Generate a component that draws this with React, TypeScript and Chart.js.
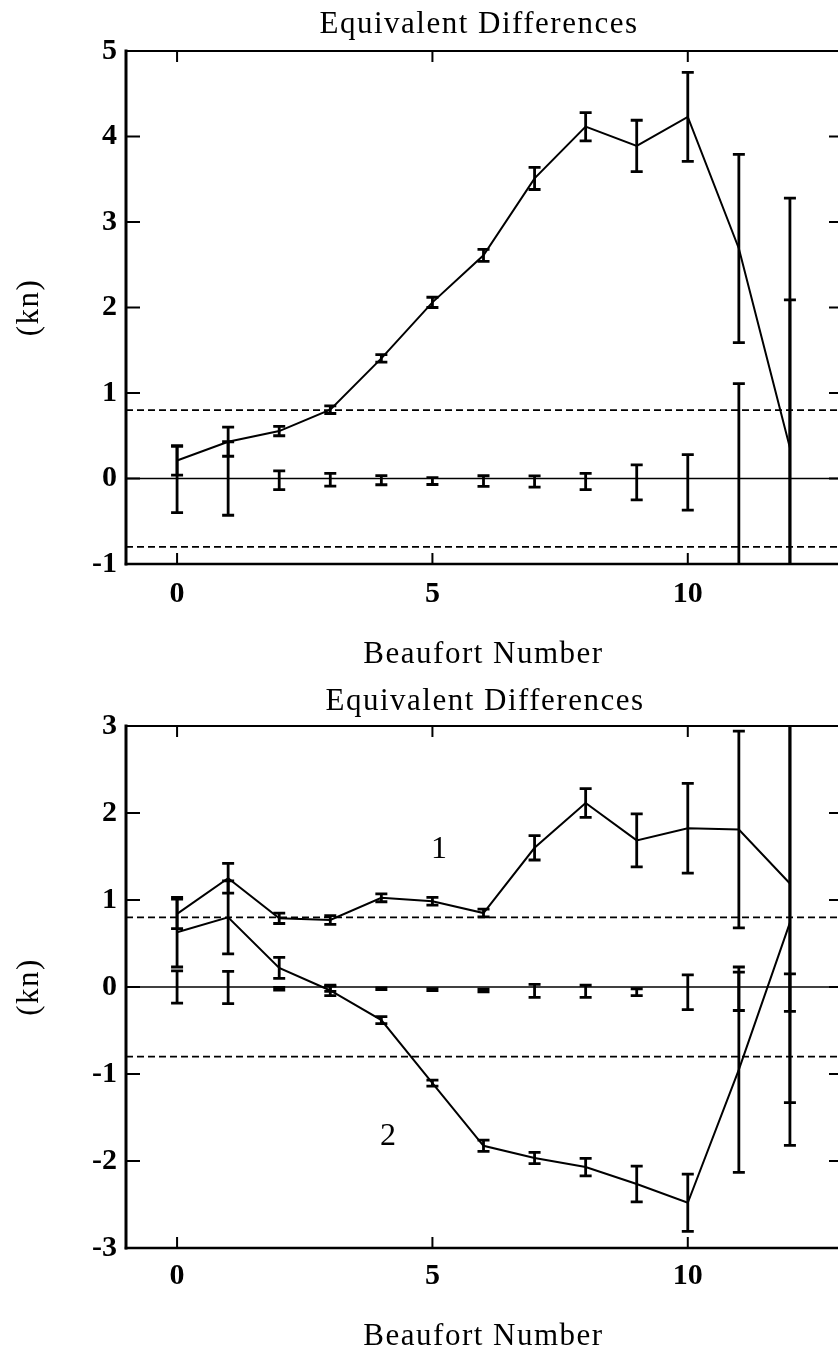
import React, { useEffect, useRef } from "react";
import { Chart, registerables } from "chart.js";

Chart.register(...registerables);

// ---------- shared axis data ----------
const BEAUFORT = [0, 1, 2, 3, 4, 5, 6, 7, 8, 9, 10, 11, 12];
const X_TICKS = [0, 5, 10];
const X_RANGE = [-1, 13];
const TOLERANCE = [0.8, -0.8];
const TITLE = "Equivalent Differences";
const X_TITLE = "Beaufort Number";
const Y_TITLE = "(kn)";

// ---------- top panel ----------
const TOP_Y_RANGE = [-1, 5];
const TOP_A = [0.21, 0.43, 0.555, 0.805, 1.405, 2.06, 2.61, 3.51, 4.115, 3.89, 4.23, 2.69, 0.36];
const TOP_A_ERR = [0.17, 0.17, 0.055, 0.045, 0.045, 0.06, 0.07, 0.13, 0.165, 0.3, 0.52, 1.1, 2.92];
const TOP_B = [-0.01, 0.0, -0.02, -0.015, -0.02, -0.03, -0.03, -0.035, -0.035, -0.045, -0.045, -0.05, -0.06];
const TOP_B_ERR = [0.39, 0.43, 0.11, 0.075, 0.053, 0.04, 0.062, 0.065, 0.095, 0.205, 0.325, 1.16, 2.15];

// ---------- bottom panel ----------
const BOT_Y_RANGE = [-3, 3];
const BOT_S1 = [0.84, 1.25, 0.79, 0.77, 1.025, 0.985, 0.85, 1.6, 2.115, 1.685, 1.825, 1.81, 1.19];
const BOT_S1_ERR = [0.17, 0.17, 0.06, 0.05, 0.045, 0.045, 0.045, 0.14, 0.165, 0.305, 0.515, 1.13, 2.52];
const BOT_S2 = [0.63, 0.8, 0.22, -0.04, -0.38, -1.105, -1.825, -1.965, -2.07, -2.265, -2.48, -0.95, 0.74];
const BOT_S2_ERR = [0.4, 0.42, 0.12, 0.06, 0.04, 0.035, 0.065, 0.065, 0.1, 0.205, 0.33, 1.18, 2.56];
const BOT_S3 = [0.0, -0.005, -0.02, -0.02, -0.02, -0.03, -0.04, -0.045, -0.05, -0.06, -0.06, -0.05, -0.065];
const BOT_S3_ERR = [0.185, 0.185, 0.015, 0.03, 0.01, 0.01, 0.015, 0.075, 0.07, 0.04, 0.2, 0.22, 0.215];
const BOT_LABELS = ["1", "2"];
const BOT_LABEL_X = [5.13, 4.13];
const BOT_LABEL_Y = [1.575, -1.72];

const SERIF = '"Liberation Serif", "Times New Roman", serif';
const CANVAS_W = 900;

type Series = { values: number[]; errors: number[]; line: boolean };
type Panel = {
  top: number;
  height: number;
  areaTop: number;
  areaBottom: number;
  yRange: number[];
  series: Series[];
  labels: { text: string; x: number; y: number }[];
  titleX: number;
  titleBase: number;
  xTitleBase: number;
  xTickPad: number;
};

const PANELS: Panel[] = [
  {
    top: 0,
    height: 680,
    areaTop: 51,
    areaBottom: 564,
    yRange: TOP_Y_RANGE,
    series: [
      { values: TOP_A, errors: TOP_A_ERR, line: true },
      { values: TOP_B, errors: TOP_B_ERR, line: false },
    ],
    labels: [],
    titleX: 479,
    titleBase: 33,
    xTitleBase: 663,
    xTickPad: 12,
  },
  {
    top: 680,
    height: 673,
    areaTop: 46,
    areaBottom: 568,
    yRange: BOT_Y_RANGE,
    series: [
      { values: BOT_S1, errors: BOT_S1_ERR, line: true },
      { values: BOT_S2, errors: BOT_S2_ERR, line: true },
      { values: BOT_S3, errors: BOT_S3_ERR, line: false },
    ],
    labels: BOT_LABELS.map((t, i) => ({ text: t, x: BOT_LABEL_X[i], y: BOT_LABEL_Y[i] })),
    titleX: 485,
    titleBase: 30,
    xTitleBase: 665,
    xTickPad: 10,
  },
];

function PanelChart({ panel }: { panel: Panel }) {
  const ref = useRef<HTMLCanvasElement>(null);

  useEffect(() => {
    const canvas = ref.current;
    if (!canvas) return;

    const datasets: any[] = [];
    panel.series.forEach((s) => {
      datasets.push({
        data: BEAUFORT.map((x, i) => ({ x, y: s.values[i] })),
        showLine: s.line,
        borderColor: "#000",
        backgroundColor: "#000",
        borderWidth: 2,
        pointRadius: 0,
        tension: 0,
        errors: s.errors,
      });
    });
    datasets.push({
      data: X_RANGE.map((x) => ({ x, y: 0 })),
      showLine: true,
      borderColor: "#000",
      borderWidth: 1.6,
      pointRadius: 0,
    });
    TOLERANCE.forEach((t) =>
      datasets.push({
        data: X_RANGE.map((x) => ({ x, y: t })),
        showLine: true,
        borderColor: "#000",
        borderWidth: 1.7,
        borderDash: [7, 4],
        pointRadius: 0,
      })
    );

    const framePlugin = {
      id: "frame",
      afterDraw(chart: any) {
        const ctx: CanvasRenderingContext2D = chart.ctx;
        const a = chart.chartArea;
        const xs = chart.scales.x;
        const ys = chart.scales.y;
        ctx.save();
        ctx.strokeStyle = "#000";
        ctx.fillStyle = "#000";

        // error bars
        ctx.save();
        ctx.beginPath();
        ctx.rect(a.left, a.top, a.right - a.left, a.bottom - a.top);
        ctx.clip();
        ctx.lineWidth = 2.8;
        chart.data.datasets.forEach((ds: any) => {
          if (!ds.errors) return;
          ds.data.forEach((p: any, i: number) => {
            const e = ds.errors[i];
            const px = xs.getPixelForValue(p.x);
            const y1 = ys.getPixelForValue(p.y + e);
            const y2 = ys.getPixelForValue(p.y - e);
            ctx.beginPath();
            ctx.moveTo(px, y1);
            ctx.lineTo(px, y2);
            ctx.moveTo(px - 6, y1);
            ctx.lineTo(px + 6, y1);
            ctx.moveTo(px - 6, y2);
            ctx.lineTo(px + 6, y2);
            ctx.stroke();
          });
        });
        ctx.restore();

        // frame
        ctx.lineCap = "square";
        ctx.lineWidth = 3;
        ctx.beginPath();
        ctx.moveTo(a.left, a.top);
        ctx.lineTo(a.left, a.bottom);
        ctx.stroke();
        ctx.lineWidth = 2.5;
        ctx.beginPath();
        ctx.moveTo(a.left, a.bottom);
        ctx.lineTo(a.right, a.bottom);
        ctx.stroke();
        ctx.lineWidth = 2;
        ctx.beginPath();
        ctx.moveTo(a.left, a.top);
        ctx.lineTo(a.right, a.top);
        ctx.lineTo(a.right, a.bottom);
        ctx.stroke();

        // inward ticks
        ctx.lineCap = "butt";
        ctx.lineWidth = 2;
        ys.ticks.forEach((t: any) => {
          const py = ys.getPixelForValue(t.value);
          ctx.beginPath();
          ctx.moveTo(a.left, py);
          ctx.lineTo(a.left + 14, py);
          ctx.moveTo(a.right - 12, py);
          ctx.lineTo(a.right, py);
          ctx.stroke();
        });
        xs.ticks.forEach((t: any) => {
          const px = xs.getPixelForValue(t.value);
          ctx.beginPath();
          ctx.moveTo(px, a.top);
          ctx.lineTo(px, a.top + 11);
          ctx.moveTo(px, a.bottom);
          ctx.lineTo(px, a.bottom - 11);
          ctx.stroke();
        });

        // texts
        (ctx as any).letterSpacing = "1.5px";
        ctx.font = `31px ${SERIF}`;
        ctx.textAlign = "center";
        ctx.textBaseline = "alphabetic";
        ctx.fillText(TITLE, panel.titleX, panel.titleBase);
        ctx.fillText(X_TITLE, (a.left + a.right) / 2, panel.xTitleBase);
        ctx.save();
        ctx.translate(30, (a.top + a.bottom) / 2);
        ctx.rotate(-Math.PI / 2);
        ctx.textBaseline = "middle";
        ctx.fillText(Y_TITLE, 0, 0);
        ctx.restore();
        (ctx as any).letterSpacing = "0px";
        ctx.font = `32px ${SERIF}`;
        ctx.textBaseline = "middle";
        panel.labels.forEach((l) => {
          ctx.fillText(l.text, xs.getPixelForValue(l.x), ys.getPixelForValue(l.y));
        });
        ctx.restore();
      },
    };

    const chart = new Chart(canvas, {
      type: "scatter",
      data: { datasets },
      options: {
        animation: false,
        responsive: false,
        maintainAspectRatio: false,
        devicePixelRatio: 1,
        layout: {
          padding: { top: panel.areaTop, left: 0, right: CANVAS_W - 841, bottom: 0 },
        },
        plugins: {
          legend: { display: false },
          tooltip: { enabled: false },
          title: { display: false },
        },
        scales: {
          x: {
            type: "linear",
            min: X_RANGE[0],
            max: X_RANGE[1],
            afterBuildTicks: (s: any) => {
              s.ticks = X_TICKS.map((v) => ({ value: v }));
            },
            afterFit: (s: any) => {
              s.height = panel.height - panel.areaBottom;
            },
            grid: { display: false, drawTicks: false },
            border: { display: false },
            ticks: {
              color: "#000",
              padding: panel.xTickPad,
              maxRotation: 0,
              autoSkip: false,
              font: { family: SERIF, size: 30, weight: "bold" },
            },
          },
          y: {
            type: "linear",
            min: panel.yRange[0],
            max: panel.yRange[1],
            afterFit: (s: any) => {
              s.width = 126;
            },
            grid: { display: false, drawTicks: false },
            border: { display: false },
            ticks: {
              stepSize: 1,
              color: "#000",
              padding: 9,
              font: { family: SERIF, size: 30, weight: "bold" },
            },
          },
        },
      } as any,
      plugins: [framePlugin],
    });
    return () => chart.destroy();
  }, [panel]);

  return (
    <canvas
      ref={ref}
      width={CANVAS_W}
      height={panel.height}
      style={{ position: "absolute", left: 0, top: panel.top, display: "block" }}
    />
  );
}

export default function App() {
  return (
    <div
      style={{
        position: "absolute",
        left: 0,
        top: 0,
        width: 838,
        height: 1353,
        overflow: "hidden",
        background: "#fff",
      }}
    >
      {PANELS.map((p, i) => (
        <PanelChart key={i} panel={p} />
      ))}
    </div>
  );
}
